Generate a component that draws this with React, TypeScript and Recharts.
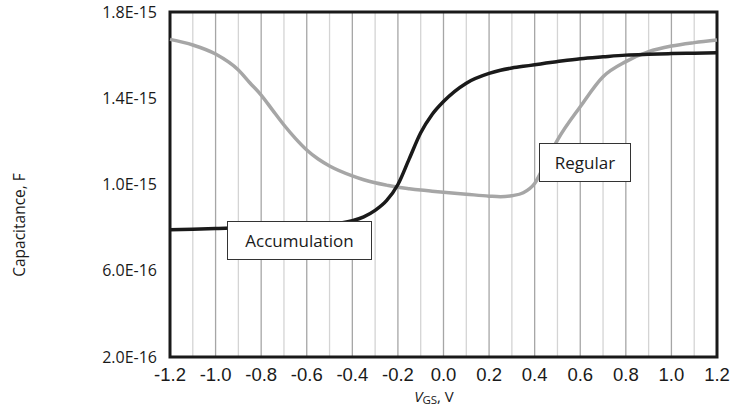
import React from 'react';
import { LineChart, Line, XAxis, YAxis, CartesianGrid, ReferenceArea } from 'recharts';

// gate voltage, V
const VGS = [
  -1.2, -1.1, -1.0, -0.9, -0.85, -0.8, -0.75, -0.7, -0.65, -0.6, -0.55, -0.5, -0.4, -0.35, -0.3, -0.25,
  -0.2, -0.15, -0.1, -0.05, 0, 0.1, 0.2, 0.25, 0.3, 0.35, 0.4, 0.45, 0.5, 0.6, 0.7, 0.8, 0.9, 1.0, 1.1, 1.2,
];
// capacitance in fF (1e-15 F)
const ACCUMULATION = [
  0.79, 0.793, 0.796, 0.799, 0.8, 0.802, 0.803, 0.805, 0.807, 0.809, 0.812, 0.815, 0.832, 0.85, 0.88, 0.925,
  1.0, 1.12, 1.24, 1.325, 1.385, 1.47, 1.515, 1.53, 1.54, 1.548, 1.555, 1.563, 1.57, 1.583, 1.592, 1.6, 1.604,
  1.607, 1.609, 1.611,
];
const REGULAR = [
  1.673, 1.647, 1.605, 1.531, 1.472, 1.415, 1.345, 1.276, 1.214, 1.16, 1.118, 1.086, 1.04, 1.022, 1.008, 0.997,
  0.987, 0.98, 0.974, 0.969, 0.964, 0.955, 0.946, 0.943, 0.948, 0.962, 1.005, 1.105, 1.206, 1.361, 1.5, 1.57,
  1.616, 1.642, 1.658, 1.67,
];

const X_TICKS = [
  -1.2, -1.1, -1.0, -0.9, -0.8, -0.7, -0.6, -0.5, -0.4, -0.3, -0.2, -0.1,
  0, 0.1, 0.2, 0.3, 0.4, 0.5, 0.6, 0.7, 0.8, 0.9, 1.0, 1.1, 1.2,
];
const Y_TICKS = [0.2, 0.6, 1.0, 1.4, 1.8];

const data = VGS.map((v, i) => ({ v, acc: ACCUMULATION[i], reg: REGULAR[i] }));

const fmtY = (v: number) => (v * 1e-15).toExponential(1).toUpperCase();
const fmtX = (v: number) => (Math.round(v * 10) % 2 === 0 ? v.toFixed(1) : '');

const gridLine = (p: any) => {
  const idx = typeof p.index === 'number' ? p.index : Math.round((p.x1 - 170) / (547 / 24));
  return (
    <line
      key={p.key}
      x1={p.x1}
      y1={p.y1}
      x2={p.x2}
      y2={p.y2}
      stroke={idx % 2 === 0 ? '#a6a6a6' : '#d4d4d4'}
      strokeWidth={1.3}
    />
  );
};

const boxStyle: React.CSSProperties = {
  position: 'absolute',
  background: '#fff',
  border: '1.5px solid #333',
  boxSizing: 'border-box',
  fontFamily: '"Open Sans", sans-serif',
  fontSize: 17,
  color: '#1a1a1a',
  display: 'flex',
  alignItems: 'center',
  justifyContent: 'center',
};

export default function App() {
  return (
    <div style={{ position: 'relative', width: 735, height: 416, background: '#fff' }}>
      <style>{`body{margin:0}`}</style>
      <LineChart width={735} height={416} data={data} margin={{ top: 12, right: 18, bottom: 0, left: 0 }}>
        <CartesianGrid horizontal={false} vertical={gridLine} />
        <XAxis
          dataKey="v"
          type="number"
          domain={[-1.2, 1.2]}
          ticks={X_TICKS}
          interval={0}
          tickFormatter={fmtX}
          axisLine={false}
          tickLine={false}
          tickSize={9}
          tickMargin={2}
          height={59}
          tick={{ fill: '#1a1a1a', fontSize: 18.5, fontFamily: '"Liberation Sans", Arial, sans-serif' }}
          label={{
            content: () => (
              <text x={434} y={402} textAnchor="middle" fill="#1a1a1a" fontSize={15} fontFamily='"Open Sans", sans-serif'>
                <tspan fontStyle="italic">V</tspan>
                <tspan fontSize={11.5} dy={2}>GS</tspan>
                <tspan dy={-2}>, V</tspan>
              </text>
            ),
          }}
        />
        <YAxis
          type="number"
          domain={[0.2, 1.8]}
          ticks={Y_TICKS}
          interval={0}
          tickFormatter={fmtY}
          axisLine={false}
          tickLine={false}
          tickSize={13}
          tickMargin={0}
          width={170}
          tick={{ fill: '#1a1a1a', fontSize: 16, fontFamily: '"Open Sans", sans-serif' }}
          label={{
            content: () => (
              <text
                x={25}
                y={225}
                transform="rotate(-90 25 225)"
                textAnchor="middle"
                fill="#1a1a1a"
                fontSize={15.5}
                fontFamily='"Open Sans", sans-serif'
              >
                Capacitance, F
              </text>
            ),
          }}
        />
        <Line
          type="monotone"
          dataKey="reg"
          stroke="#a6a6a6"
          strokeWidth={3.5}
          dot={false}
          isAnimationActive={false}
        />
        <Line
          type="monotone"
          dataKey="acc"
          stroke="#1a1a1a"
          strokeWidth={3.5}
          dot={false}
          isAnimationActive={false}
        />
        <ReferenceArea
          x1={-1.2}
          x2={1.2}
          y1={0.2}
          y2={1.8}
          fill="none"
          fillOpacity={0}
          stroke="#1a1a1a"
          strokeWidth={3}
        />
      </LineChart>
      <div style={{ ...boxStyle, left: 227, top: 221, width: 145, height: 39 }}>Accumulation</div>
      <div style={{ ...boxStyle, left: 539, top: 143, width: 92, height: 39 }}>Regular</div>
    </div>
  );
}
